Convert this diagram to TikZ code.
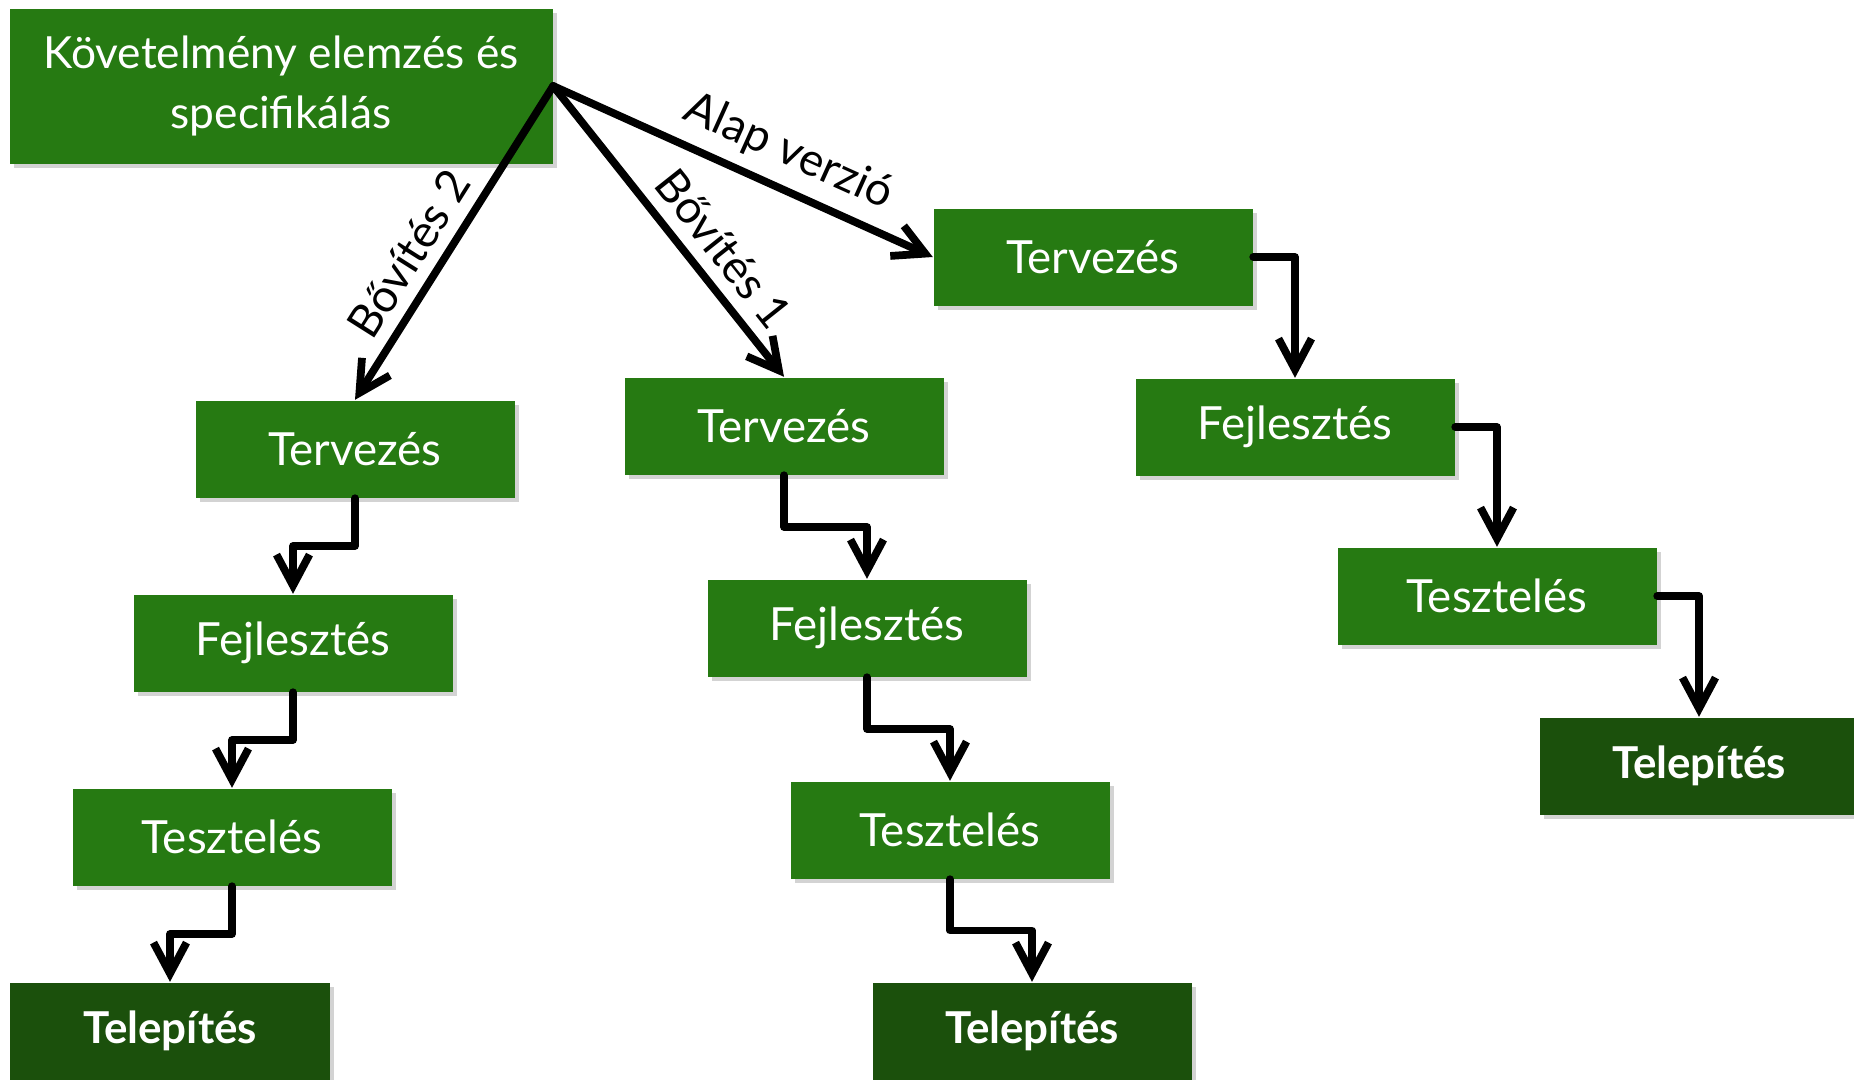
\documentclass[tikz,border=0pt]{standalone}
\usepackage{fontspec}
\setmainfont{Lato}
\usetikzlibrary{arrows.meta,calc,shadows}

\definecolor{stepgreen}{RGB}{38,122,18}
\definecolor{deploygreen}{RGB}{27,80,12}

\begin{document}
\begin{tikzpicture}[
    all/.style={minimum width=3.19cm, minimum height=.97cm, text=white,
        font=\fontsize{13}{17}\selectfont,
        drop shadow={opacity=.35, shadow xshift=.4mm, shadow yshift=-.4mm}},
    stepbox/.style={all, rectangle, fill=stepgreen},
    deploy/.style={all, rectangle, fill=deploygreen, font=\fontsize{12.5}{17}\selectfont\bfseries},
    arr/.style={-{Straight Barb[length=3.1mm, width=3.3mm]}, line width=2.2pt,
        line join=round, line cap=round},
    elbow/.style={to path={|- ($(\tikztostart)!.5!(\tikztotarget)$) -| (\tikztotarget)}},
    lbl/.style={font=\fontsize{13}{17}\selectfont, sloped, above},
]
    \useasboundingbox (0,0) rectangle (18.54,-10.79);

    \node [stepbox, minimum width=5.43cm, minimum height=1.55cm, align=center,
        font=\fontsize{12.6}{17}\selectfont] (spec)
        at (2.81,-0.86) {Követelmény elemzés és\\ specifikálás};

    % alap verzio
    \node [stepbox] (a1) at (10.93,-2.57) {Tervezés};
    \node [stepbox] (a2) at (12.95,-4.27) {Fejlesztés};
    \node [stepbox] (a3) at (14.97,-5.96) {Tesztelés};
    \node [deploy]  (a4) at (16.99,-7.66) {Telepítés};

    % bovites 1
    \node [stepbox] (b1) at (7.84,-4.26) {Tervezés};
    \node [stepbox] (b2) at (8.67,-6.28) {Fejlesztés};
    \node [stepbox] (b3) at (9.50,-8.30) {Tesztelés};
    \node [deploy]  (b4) at (10.32,-10.31) {Telepítés};

    % bovites 2
    \node [stepbox] (c1) at (3.55,-4.49) {Tervezés};
    \node [stepbox] (c2) at (2.93,-6.43) {Fejlesztés};
    \node [stepbox] (c3) at (2.32,-8.37) {Tesztelés};
    \node [deploy]  (c4) at (1.70,-10.31) {Telepítés};

    \draw [arr] (spec.east) -- node [lbl, pos=.58] {Alap verzió} (a1.west);
    \draw [arr] (spec.east) -- node [lbl, pos=.63] {Bővítés 1} (b1.north);
    \draw [arr] (spec.east) -- node [lbl, pos=.59] {Bővítés 2} (c1.north);

    \draw [arr] (a1.east) -| (a2.north);
    \draw [arr] (a2.east) -| (a3.north);
    \draw [arr] (a3.east) -| (a4.north);

    \draw [arr] (b1.south) to [elbow] (b2.north);
    \draw [arr] (b2.south) to [elbow] (b3.north);
    \draw [arr] (b3.south) to [elbow] (b4.north);

    \draw [arr] (c1.south) to [elbow] (c2.north);
    \draw [arr] (c2.south) to [elbow] (c3.north);
    \draw [arr] (c3.south) to [elbow] (c4.north);
\end{tikzpicture}
\end{document}
